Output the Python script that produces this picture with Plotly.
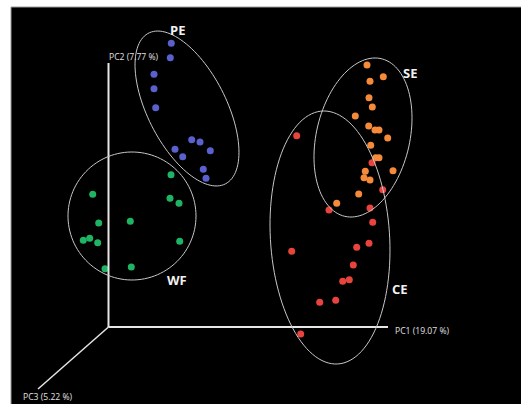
import numpy as np
import plotly.graph_objects as go

# Projected PCA scores (in the 2-D projection frame of the 3-D plot; origin = axis corner)
ORIGIN = (108.5, 327.0)

pe_x = [171.3, 170.3, 154.0, 154.0, 155.7, 191.7, 200.0, 175.0, 210.3, 182.7, 203.3, 206.0]
pe_y = [43.3, 57.7, 74.3, 88.7, 107.7, 139.7, 142.0, 149.3, 150.7, 156.7, 169.3, 178.3]

wf_x = [171.0, 92.7, 170.0, 179.0, 98.7, 130.3, 83.3, 89.7, 97.7, 179.7, 105.0, 131.3]
wf_y = [174.7, 194.3, 198.3, 203.3, 223.0, 221.3, 240.3, 238.3, 242.7, 241.3, 268.7, 267.0]

se_x = [367.0, 383.3, 370.0, 369.0, 372.3, 355.3, 368.7, 375.0, 379.0, 387.7, 370.7,
        375.7, 379.0, 393.0, 365.3, 364.0, 370.0, 358.7, 336.7]
se_y = [65.0, 76.7, 81.3, 97.7, 107.0, 116.0, 126.0, 130.0, 130.0, 138.0, 145.3,
        157.7, 157.7, 170.7, 171.3, 177.7, 180.0, 194.0, 203.3]

ce_x = [296.7, 372.0, 382.7, 329.0, 370.0, 372.7, 291.7, 369.0, 356.7, 353.3, 342.7,
        349.3, 319.7, 335.7, 300.7]
ce_y = [135.7, 162.7, 189.7, 210.0, 208.0, 222.3, 251.3, 243.3, 247.3, 265.0, 281.3,
        279.7, 302.3, 300.3, 334.0]

groups = ["PE", "WF", "SE", "CE"]
axis_titles = ["PC1 (19.07 %)", "PC2 (7.77 %)", "PC3 (5.22 %)"]

colors = {"PE": "#5b60cf", "WF": "#1fb463", "SE": "#f58a3a", "CE": "#e8433d"}


def to_frame(xs, ys):
    return [x - ORIGIN[0] for x in xs], [ORIGIN[1] - y for y in ys]


def ellipse_path(cx, cy, a, b, theta_deg, n=120):
    t = np.linspace(0, 2 * np.pi, n)
    th = np.deg2rad(theta_deg)
    px = cx + a * np.cos(t) * np.cos(th) - b * np.sin(t) * np.sin(th)
    py = cy + a * np.cos(t) * np.sin(th) + b * np.sin(t) * np.cos(th)
    fx = px - ORIGIN[0]
    fy = ORIGIN[1] - py
    pts = [f"{x:.2f},{y:.2f}" for x, y in zip(fx, fy)]
    return "M " + " L ".join(pts) + " Z"


fig = go.Figure()

data = {"PE": (pe_x, pe_y), "WF": (wf_x, wf_y), "SE": (se_x, se_y), "CE": (ce_x, ce_y)}
for g in ["WF", "PE", "SE", "CE"]:
    fx, fy = to_frame(*data[g])
    fig.add_trace(go.Scatter(
        x=fx, y=fy, mode="markers", name=g, showlegend=False,
        marker=dict(size=7, color=colors[g], line=dict(width=0)),
        hoverinfo="skip"))

x0 = -ORIGIN[0]
x1 = 521 - ORIGIN[0]
y_top = ORIGIN[1] - 0
y_bot = ORIGIN[1] - 404

shapes = []
shapes.append(dict(type="rect", xref="x", yref="y", x0=11 - ORIGIN[0], x1=x1 + 5,
                   y0=ORIGIN[1] - 7, y1=y_bot - 5, fillcolor="black",
                   line=dict(color="#9a9a9a", width=1), layer="below"))
axc = "#e6e6e6"
shapes.append(dict(type="line", xref="x", yref="y", x0=0, y0=0, x1=0, y1=ORIGIN[1] - 63,
                   line=dict(color=axc, width=2)))
shapes.append(dict(type="line", xref="x", yref="y", x0=0, y0=0, x1=388 - ORIGIN[0], y1=0,
                   line=dict(color=axc, width=2)))
shapes.append(dict(type="line", xref="x", yref="y", x0=0, y0=0, x1=38 - ORIGIN[0],
                   y1=ORIGIN[1] - 389, line=dict(color=axc, width=1.5)))
ell_col = "#c8c8c8"
for (cx, cy, a, b, th) in [(187, 108.5, 84.6, 39.3, 63),
                           (132, 216, 64, 64, 0),
                           (363, 137.5, 80.9, 46.7, 103),
                           (330, 237.5, 126.7, 59.6, 86.5)]:
    shapes.append(dict(type="path", xref="x", yref="y", path=ellipse_path(cx, cy, a, b, th),
                       line=dict(color=ell_col, width=1)))

annotations = []
lab_pos = {"PE": (177, 30), "SE": (410, 73), "WF": (177, 280), "CE": (400, 289)}
for g in groups:
    lx, ly = lab_pos[g]
    annotations.append(dict(x=lx - ORIGIN[0], y=ORIGIN[1] - ly, text=f"<b>{g}</b>",
                            showarrow=False, xanchor="center", yanchor="middle",
                            font=dict(family="Open Sans", size=13, color="#f2f2f2")))
for txt, (lx, ly), anchor in [(axis_titles[0], (393, 331), "left"),
                              (axis_titles[1], (134, 57), "center"),
                              (axis_titles[2], (48, 397), "center")]:
    annotations.append(dict(x=lx - ORIGIN[0], y=ORIGIN[1] - ly, text=txt, showarrow=False,
                            xanchor=anchor, yanchor="middle",
                            font=dict(family="Open Sans", size=8.6, color="#e0e0e0")))

fig.update_layout(
    width=521, height=404, margin=dict(l=0, r=0, t=0, b=0),
    paper_bgcolor="white", plot_bgcolor="white",
    xaxis=dict(range=[x0, x1], visible=False, fixedrange=True),
    yaxis=dict(range=[y_bot, y_top], visible=False, fixedrange=True),
    shapes=shapes, annotations=annotations,
)

fig.write_html("out.html", config={"displayModeBar": False},
               post_script="document.body.style.margin='0';document.body.style.overflow='hidden';")
